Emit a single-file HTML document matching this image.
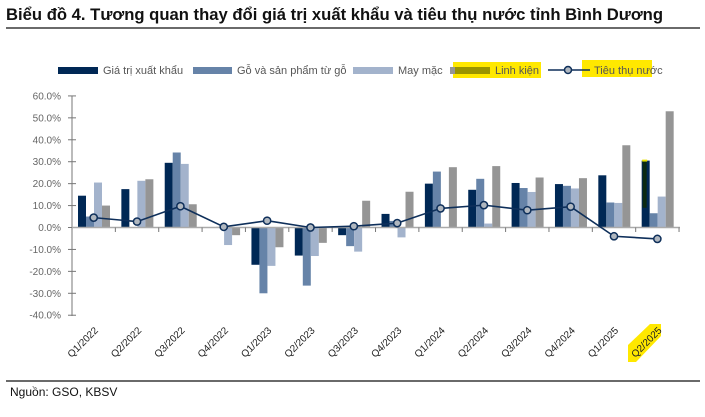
<!DOCTYPE html>
<html><head><meta charset="utf-8"><style>
body{margin:0;background:#fff;width:705px;height:417px;overflow:hidden}
svg{display:block;font-family:"Liberation Sans",sans-serif}
</style></head><body>
<svg width="705" height="417" viewBox="0 0 705 417" xmlns="http://www.w3.org/2000/svg">
<text x="6" y="20" font-size="16.5" font-weight="bold" fill="#111" textLength="657" lengthAdjust="spacingAndGlyphs">Biểu đồ 4. Tương quan thay đổi giá trị xuất khẩu và tiêu thụ nước tỉnh Bình Dương</text>
<line x1="6" y1="28" x2="700" y2="28" stroke="#111" stroke-width="1.3"/>
<!-- legend -->
<g font-size="11" fill="#555">
<rect x="58" y="67" width="40" height="7" fill="#002855"/><text x="103" y="74">Giá trị xuất khẩu</text>
<rect x="193" y="67" width="39" height="7" fill="#6683a8"/><text x="237" y="74">Gỗ và sản phẩm từ gỗ</text>
<rect x="353" y="67" width="40" height="7" fill="#a3b3cc"/><text x="398" y="74">May mặc</text>
<rect x="453" y="62" width="88" height="16" fill="#ffe800"/>
<rect x="450" y="67" width="40" height="7" fill="#959595"/><rect x="455" y="67" width="35" height="7" fill="#9a9400"/><text x="495" y="74">Linh kiện</text>
<rect x="582" y="60" width="70" height="17" fill="#ffe800"/>
<line x1="548" y1="70" x2="590" y2="70" stroke="#0e2f5a" stroke-width="1.5"/><circle cx="568" cy="70" r="3.5" fill="#b0b7bf" stroke="#0e2f5a" stroke-width="1.5"/><text x="594" y="74">Tiêu thụ nước</text>
</g>
<!-- y axis -->
<g font-size="10" fill="#666" text-anchor="end" id="yax"></g>
<line x1="72" y1="96" x2="72" y2="316" stroke="#777" stroke-width="1"/>
<g id="bars"></g>
<line x1="72" y1="227.5" x2="680" y2="227.5" stroke="#aaa" stroke-width="1.5"/>
<g id="xt"></g>
<polyline id="ln" fill="none" stroke="#0e2f5a" stroke-width="1.6"/>
<g id="mk"></g>
<path d="M628 362 L628 345 L650 324 L661 324 L661 336 L636 362 Z" fill="#ffe800"/>
<g id="xl" font-size="10" fill="#222"></g>
<line x1="6" y1="381" x2="700" y2="381" stroke="#111" stroke-width="1.2"/>
<text x="10" y="396" font-size="12" fill="#111">Nguồn: GSO, KBSV</text>
</svg>
<script>
const ns="http://www.w3.org/2000/svg";
function el(t,a,p,txt){const e=document.createElementNS(ns,t);for(const k in a)e.setAttribute(k,a[k]);if(txt)e.textContent=txt;document.getElementById(p).appendChild(e);return e;}
const Y=v=>227.5-2.193*v;
for(let v=60;v>=-40;v-=10){el("text",{x:61,y:Y(v)+3.5},"yax",v.toFixed(1)+"%");el("line",{x1:68,x2:76,y1:Y(v),y2:Y(v),stroke:"#777"},"bars");}
const d=[[14.5,5,20.5,10,4.5],[17.5,0,21.3,22,2.7],[29.5,34.2,29,10.6,9.7],[0,0.3,-8,-3.5,0.3],[-17,-30,-17.5,-9,3.1],[-12.8,-26.5,-13,-7,0],[-3.5,-8.5,-11,12.2,0.6],[6.2,3,-4.5,16.3,2],[20,25.5,0,27.5,8.7],[17.2,22.2,1.8,28,10.2],[20.3,18,16.2,22.8,7.9],[19.8,19,17.8,22.5,9.5],[23.8,11.4,11.2,37.5,-4],[30.5,6.5,14.1,53,-5.2]];
const cols=["#002855","#6683a8","#a3b3cc","#959595"];
const labs=["Q1/2022","Q2/2022","Q3/2022","Q4/2022","Q1/2023","Q2/2023","Q3/2023","Q4/2023","Q1/2024","Q2/2024","Q3/2024","Q4/2024","Q1/2025","Q2/2025"];
const w=43.36;let pts=[];
d.forEach((r,i)=>{const s=72+w*i;
 for(let j=0;j<4;j++){const v=r[j];if(!v)continue;const y=Y(Math.max(v,0)),h=Math.abs(Y(v)-Y(0));el("rect",{x:s+6+8*j,y:y,width:8,height:h,fill:cols[j]},"bars");}
 if(i==13){el("rect",{x:s+6.5,y:Y(30.5)-1,width:5,height:2,fill:"#e8e000"},"bars");el("rect",{x:s+7,y:Y(30),width:4,height:Y(9)-Y(30),fill:"#0b2a12"},"bars");}
 el("line",{x1:s+w,x2:s+w,y1:227.5,y2:232,stroke:"#777"},"xt");
 const cx=s+w/2;pts.push(cx+","+Y(r[4]));el("circle",{cx:cx,cy:Y(r[4]),r:3.6,fill:"#b0b7bf",stroke:"#0e2f5a","stroke-width":1.5},"mk");
 el("text",{x:0,y:0,"text-anchor":"end",transform:`translate(${cx+5},${331}) rotate(-45)`},"xl",labs[i]);
});
document.getElementById("ln").setAttribute("points",pts.join(" "));
</script>
</body></html>
